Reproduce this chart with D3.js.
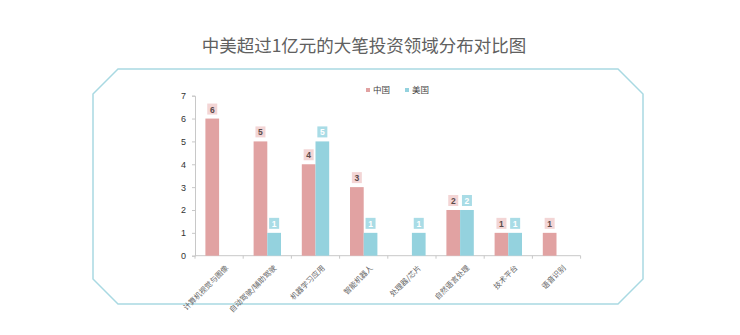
<!DOCTYPE html>
<html><head><meta charset="utf-8">
<script src="https://cdn.jsdelivr.net/npm/d3@7"></script>
<style>body{margin:0;background:#fff}svg{display:block}</style>
</head><body>
<svg id="c" width="740" height="335"></svg>
<script>
const categories = ["计算机视觉与图像","自动驾驶/辅助驾驶","机器学习应用","智能机器人","处理器/芯片","自然语言处理","技术平台","语音识别"];
const chinaValues = [6,5,4,3,0,2,1,1];
const usValues = [0,1,5,1,1,2,1,0];
const seriesNames = ["中国","美国"];
const yTicks = [0,1,2,3,4,5,6,7];
const title = "中美超过1亿元的大笔投资领域分布对比图";

const svg = d3.select("#c");
const font = "'Noto Sans CJK SC','Noto Sans',sans-serif";
const colors = {"中国":"#e1a2a2","美国":"#94d2de"};
const labelBg = {"中国":"#f3d5d5","美国":"#a9dce6"};
const labelFg = {"中国":"#5a4a4a","美国":"#ffffff"};

// frame
const fr = {l:93,r:643,t:69,b:304,c:25};
svg.append("path")
  .attr("d",`M${fr.l},${fr.t+fr.c}L${fr.l+fr.c},${fr.t}L${fr.r-fr.c},${fr.t}L${fr.r},${fr.t+fr.c}L${fr.r},${fr.b-fr.c}L${fr.r-fr.c},${fr.b}L${fr.l+fr.c},${fr.b}L${fr.l},${fr.b-fr.c}Z`)
  .attr("fill","none").attr("stroke","#a9d9e2").attr("stroke-width",1.5);

svg.append("text").attr("x",364).attr("y",52).attr("text-anchor","middle")
  .attr("font-family",font).attr("font-size",17.5).attr("fill","#606060").text(title);

const x0 = d3.scaleBand().domain(categories).range([195,580.6]).paddingInner(0).paddingOuter(0);
const bw = 13.7;
const y = d3.scaleLinear().domain([0,7]).range([255.7,95.7]);

// axes
const yAxis = d3.axisLeft(y).tickValues(yTicks).tickFormat(d3.format("d")).tickSize(3).tickPadding(6);
const gy = svg.append("g").attr("transform","translate(195,0)").call(yAxis);
gy.select(".domain").attr("stroke","#c8c8c8");
gy.selectAll(".tick line").attr("stroke","#c8c8c8");
gy.selectAll("text").attr("font-family","'Liberation Sans',Arial,sans-serif").attr("font-size",9).attr("fill","#333");

const xAxisG = svg.append("g").attr("transform","translate(0,255.7)");
xAxisG.append("line").attr("x1",195).attr("x2",580.6).attr("stroke","#c8c8c8");
const bounds = categories.map(c=>x0(c)).concat([580.6]);
xAxisG.selectAll("line.t").data(bounds).join("line").attr("class","t")
  .attr("x1",d=>d).attr("x2",d=>d).attr("y1",0).attr("y2",3).attr("stroke","#c8c8c8");
xAxisG.selectAll("text").data(categories).join("text")
  .attr("transform",c=>`translate(${x0(c)+x0.bandwidth()/2+6},9) rotate(-45)`)
  .attr("text-anchor","end").attr("dy","0.7em")
  .attr("font-family",font).attr("font-size",7.5).attr("fill","#666").text(c=>c);

// bars
const series = [{name:"中国",values:chinaValues,off:-bw},{name:"美国",values:usValues,off:0}];
series.forEach(s=>{
  const g = svg.append("g");
  categories.forEach((c,i)=>{
    const v = s.values[i];
    if(!v) return;
    const cx = x0(c)+x0.bandwidth()/2+s.off;
    g.append("rect").attr("x",cx).attr("y",y(v)).attr("width",bw).attr("height",y(0)-y(v)).attr("fill",colors[s.name]);
    const lx = cx+bw/2, ly = y(v)-9;
    g.append("rect").attr("x",lx-5).attr("y",ly-6).attr("width",10).attr("height",11).attr("fill",labelBg[s.name]);
    g.append("text").attr("x",lx).attr("y",ly).attr("dy","0.35em").attr("text-anchor","middle")
      .attr("font-family","'Liberation Sans',Arial,sans-serif").attr("font-size",8.5).attr("font-weight","bold")
      .attr("fill",labelFg[s.name]).text(v);
  });
});

// legend
const lg = svg.append("g");
[{n:"中国",x:366},{n:"美国",x:405}].forEach(d=>{
  lg.append("rect").attr("x",d.x).attr("y",88).attr("width",4).attr("height",4).attr("fill",colors[d.n]);
  lg.append("text").attr("x",d.x+7).attr("y",90).attr("dy","0.35em").attr("font-family",font)
    .attr("font-size",8.5).attr("fill","#444").text(d.n);
});
</script>
</body></html>
